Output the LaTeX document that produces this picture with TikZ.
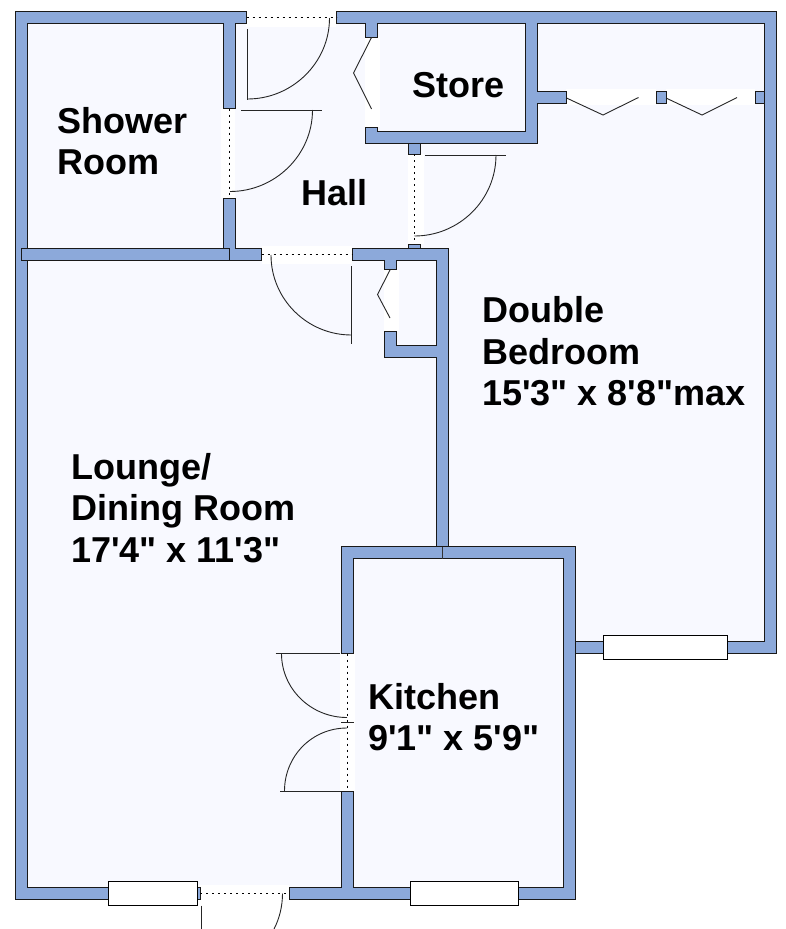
\documentclass[tikz,border=0pt]{standalone}
\usepackage{fontspec}
\newfontfamily\labfont{Liberation Sans}[BoldFont={Liberation Sans Bold}]
\definecolor{wallblue}{HTML}{8CA9DA}
\definecolor{roomtint}{HTML}{F8F9FF}
\tikzset{
  wall/.style={fill=wallblue,draw=black!90,line width=0.9pt,line join=miter},
  windowbox/.style={fill=white,draw=black,line width=0.9pt},
  gap/.style={fill=white,draw=none},
  doorline/.style={draw=black!85,line width=0.9pt},
  sill/.style={draw=black,line width=0.9pt,dash pattern=on 2pt off 4pt},
  lab/.style={anchor=base west,inner sep=0pt,font=\labfont\bfseries\fontsize{36}{42}\selectfont}
}
\begin{document}
\begin{tikzpicture}[x=1pt,y=-1pt]
\useasboundingbox (0,0) rectangle (786,929);
\clip (0,0) rectangle (786,929);
\fill[white] (0,0) rectangle (786,929);
% room floor
\fill[roomtint] (15.5,11.5) -- (776,11.5) -- (776,653) -- (575.5,653) -- (575.5,899.5) -- (15.5,899.5) -- cycle;
% pale gaps round the openings
\fill[gap] (246,8) rectangle (336,27);
\fill[gap] (221,108) rectangle (235,198);
\fill[gap] (262,246) rectangle (352,264);
\fill[gap] (408,154) rectangle (424,244);
\fill[gap] (365,37) rectangle (380,127);
\fill[gap] (566,89) rectangle (656,105);
\fill[gap] (666,89) rectangle (755,105);
\fill[gap] (384,270) rectangle (399,331);
\fill[gap] (340,653) rectangle (355,791);
\fill[gap] (197,885) rectangle (289,929);
% walls
\draw[wall] (15.5,11.5) -- (246.5,11.5) -- (246.5,23.5) -- (235.5,23.5) -- (235.5,108.5) -- (223.5,108.5) -- (223.5,23.5) -- (27.5,23.5) -- (27.5,887.5) -- (108,887.5) -- (108,899.5) -- (15.5,899.5) -- cycle;
\draw[wall] (21.5,248.5) rectangle (229.5,260);
\draw[wall] (223.5,198) -- (235.5,198) -- (235.5,248.5) -- (261.5,248.5) -- (261.5,260) -- (229.5,260) -- (229.5,248.5) -- (223.5,248.5) -- cycle;
\draw[wall] (336.5,11.5) -- (776,11.5) -- (776,653.5) -- (575.5,653.5) -- (575.5,641.5) -- (764,641.5) -- (764,23.5) -- (537.5,23.5) -- (537.5,91) -- (566.5,91) -- (566.5,103.5) -- (537.5,103.5) -- (537.5,143) -- (365.5,143) -- (365.5,127.5) -- (377.5,127.5) -- (377.5,131.5) -- (525.5,131.5) -- (525.5,23.5) -- (377.5,23.5) -- (377.5,37.5) -- (365.5,37.5) -- (365.5,23.5) -- (336.5,23.5) -- cycle;
\draw[wall] (352.5,248.5) -- (448.5,248.5) -- (448.5,546.5) -- (436.5,546.5) -- (436.5,357.5) -- (384.5,357.5) -- (384.5,331) -- (396.5,331) -- (396.5,345.5) -- (436.5,345.5) -- (436.5,260.5) -- (396.5,260.5) -- (396.5,269.5) -- (384.5,269.5) -- (384.5,260.5) -- (352.5,260.5) -- cycle;
\draw[wall] (341.5,546.5) -- (575.5,546.5) -- (575.5,899.5) -- (289.5,899.5) -- (289.5,887.5) -- (341.5,887.5) -- (341.5,791) -- (353.5,791) -- (353.5,887.5) -- (563.5,887.5) -- (563.5,558.5) -- (353.5,558.5) -- (353.5,653.5) -- (341.5,653.5) -- cycle;
\draw[black!80,line width=0.7pt] (442.5,546.5) -- (442.5,558.5);
% jambs
\draw[wall] (408.5,143) rectangle (420.5,154);
\draw[wall] (408.5,244) rectangle (420.5,248.5);
\draw[wall] (656,91) rectangle (666,103.5);
\draw[wall] (755,91) rectangle (764,103.5);
\draw[wall] (197,887.5) rectangle (200,899.5);
% windows
\draw[windowbox] (603.5,635.5) rectangle (727.5,659.5);
\draw[windowbox] (410.5,881) rectangle (518.5,905);
\draw[windowbox] (108,881) rectangle (197,905.5);
% door sills
\draw[sill] (246.5,17.5) -- (336.5,17.5);
\draw[sill] (229.5,108.5) -- (229.5,198);
\draw[sill] (261.5,254.5) -- (352.5,254.5);
\draw[sill] (414.5,154) -- (414.5,244);
\draw[sill] (347.5,653.5) -- (347.5,791);
\draw[sill] (200,893.5) -- (289.5,893.5);
% door leaves
\draw[doorline] (247.5,29) -- (247.5,100);
\draw[doorline] (329.5,18) .. controls (329.5,62.7) and (292.2,99) .. (247.5,99);
\draw[doorline] (241,110) -- (322,110);
\draw[doorline] (312.5,110) .. controls (312.5,155) and (275,191.5) .. (230,191.5);
\draw[doorline] (425,155) -- (506,155);
\draw[doorline] (496,155) .. controls (496,200) and (459,236) .. (414.5,236);
\draw[doorline] (351.5,266) -- (351.5,344);
\draw[doorline] (271,255) .. controls (271,299) and (307,335) .. (351.5,335);
\draw[doorline] (275.5,653.5) -- (340,653.5);
\draw[doorline] (281.5,653.5) .. controls (281.5,689) and (311,717.5) .. (347,717.5);
\draw[doorline] (341,722.5) -- (354,722.5);
\draw[doorline] (280,791) -- (341,791);
\draw[doorline] (284.5,791) .. controls (284.5,756) and (312,728) .. (347,728);
\draw[doorline] (201.5,905.5) -- (201.5,929);
\draw[doorline] (282.5,893.5) .. controls (282.5,906) and (279.5,918.5) .. (274,929);
% folding doors
\draw[doorline] (371.5,37.5) -- (353.5,73) -- (371.5,109);
\draw[doorline] (390,270) -- (377.5,294.5) -- (390,318);
\draw[doorline] (566.5,98) -- (603,115) -- (638.5,97.5);
\draw[doorline] (666,98) -- (702,115) -- (737,97.5);
% labels
\node[lab] (shower1) at (57,133) {Shower};
\node[lab] (shower2) at (57,174.5) {Room};
\node[lab] (hall) at (301,205) {Hall};
\node[lab] (store) at (412,97.5) {Store};
\node[lab] (bed1) at (482,322) {Double};
\node[lab] (bed2) at (482,364) {Bedroom};
\node[lab] (bed3) at (482,405) {15'3" x 8'8"max};
\node[lab] (lounge1) at (71,479) {Lounge/};
\node[lab] (lounge2) at (71,520.5) {Dining Room};
\node[lab] (lounge3) at (71,562) {17'4" x 11'3"};
\node[lab] (kit1) at (368,709.5) {Kitchen};
\node[lab] (kit2) at (368,750) {9'1" x 5'9"};
\end{tikzpicture}
\end{document}
